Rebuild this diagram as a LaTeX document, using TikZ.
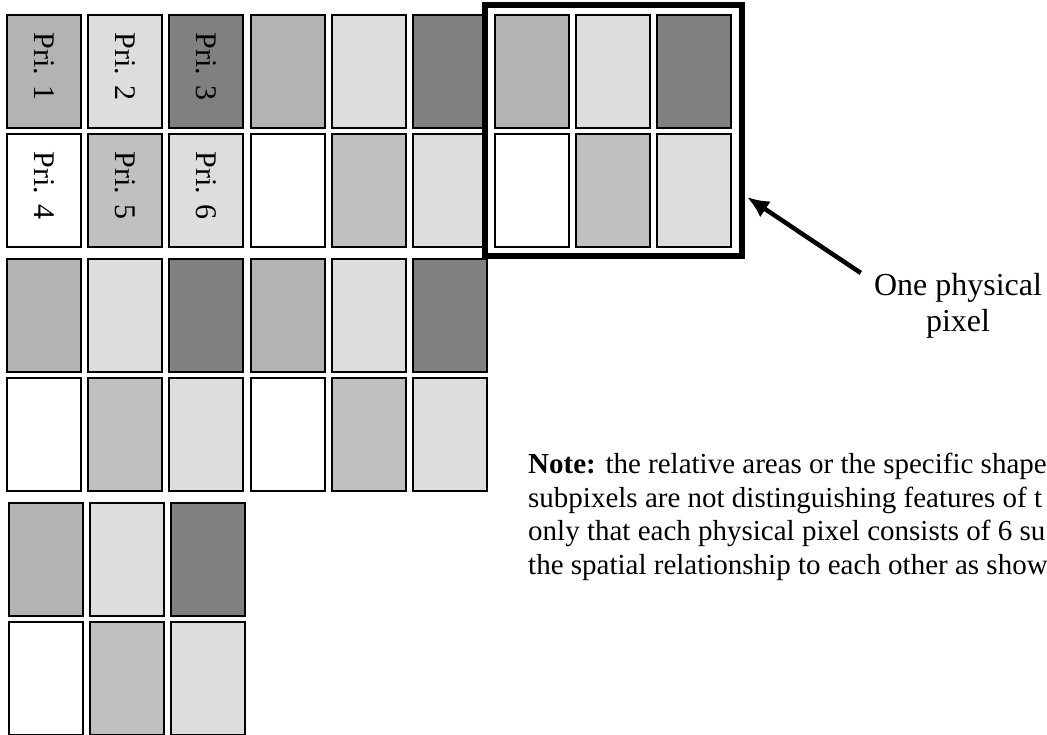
\documentclass[tikz,border=0pt]{standalone}
\usepackage{fontspec}
\setmainfont{Liberation Serif}
\usetikzlibrary{arrows.meta}

\definecolor{subA}{HTML}{B3B3B3}
\definecolor{subB}{HTML}{DDDDDD}
\definecolor{subC}{HTML}{808080}
\definecolor{subE}{HTML}{C0C0C0}

\begin{document}
\begin{tikzpicture}[x=1pt, y=-1pt, >={Latex[length=22pt,width=19pt]},
  sub/.style={draw, line width=2pt, minimum width=74pt, minimum height=113pt,
    inner sep=0pt, anchor=north west},
  pri/.style={rotate=-90, font=\fontsize{30}{36}\selectfont}]
  \useasboundingbox (0,0) rectangle (1047,735);

  % subpixels, six to each physical pixel
  \foreach \px/\x/\y in {a/5/13, b/249/13, c/493/13, d/5/257, e/249/257, f/7/501}{
    \foreach \c/\col in {1/subA, 2/subB, 3/subC}
      \node[sub, fill=\col] (\px\c) at ({\x+81*(\c-1)+1}, {\y+1}) {};
    \foreach \c/\col in {4/white, 5/subE, 6/subB}
      \node[sub, fill=\col] (\px\c) at ({\x+81*(\c-4)+1}, {\y+120}) {};
  }

  % primaries
  \foreach \c in {1,...,6}
    \node[pri] (pri\c) at ([yshift=5pt]a\c) {Pri. \c};

  % one physical pixel
  \draw[line width=6pt] (484.5,5.5) rectangle (741.5,256.5);
  \coordinate (tip) at (747,197);
  \node[font=\fontsize{32}{36}\selectfont, align=center, inner sep=0pt, anchor=north]
    (lbl) at (958,273) {One physical\\pixel};
  \draw[->, line width=4.5pt] ([xshift=-13pt]lbl.north west) -- (tip);

  % note
  \node[font=\fontsize{29}{33.5}\selectfont, align=left, inner sep=0pt, anchor=north west]
    (note) at (528,453) {\textbf{Note:} the relative areas or the specific shape\\
    subpixels are not distinguishing features of t\\
    only that each physical pixel consists of 6 su\\
    the spatial relationship to each other as show};
\end{tikzpicture}
\end{document}
